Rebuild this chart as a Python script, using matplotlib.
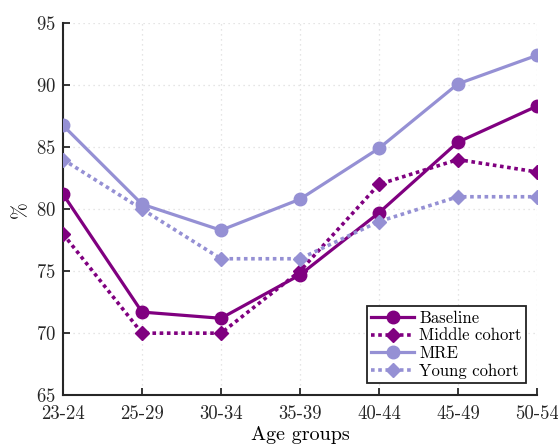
import matplotlib
matplotlib.use("Agg")
import matplotlib.pyplot as plt

plt.rcParams['font.family'] = ['cmr10', 'DejaVu Serif']
plt.rcParams['axes.formatter.use_mathtext'] = True
plt.rcParams['mathtext.fontset'] = 'cm'

categories = ["23-24", "25-29", "30-34", "35-39", "40-44", "45-49", "50-54"]
baseline = [81.2, 71.7, 71.2, 74.7, 79.7, 85.4, 88.3]
middle_cohort = [78, 70, 70, 75, 82, 84, 83]
mre = [86.75, 80.4, 78.3, 80.8, 84.9, 90.1, 92.4]
young_cohort = [84, 80, 76, 76, 79, 81, 81]
yticks = [65, 70, 75, 80, 85, 90, 95]

dark = '#800080'
light = '#9590d4'

fig = plt.figure(figsize=(5.58, 4.45), dpi=100)
ax = fig.add_axes([0.113, 0.112, 0.849, 0.836])
x = list(range(len(categories)))

ax.plot(x, baseline, color=dark, lw=2.3, marker='o', ms=9, label='Baseline', zorder=3)
ax.plot(x, middle_cohort, color=dark, lw=2.6, ls=(0, (1, 1)), marker='D', ms=7.5, label='Middle cohort', zorder=3)
ax.plot(x, mre, color=light, lw=2.3, marker='o', ms=9, label='MRE', zorder=3)
ax.plot(x, young_cohort, color=light, lw=2.6, ls=(0, (1, 1)), marker='D', ms=7.5, label='Young cohort', zorder=3)

ax.set_xlim(0, len(categories) - 1)
ax.set_ylim(65, 95)
ax.set_xticks(x)
ax.set_xticklabels(categories)
ax.set_yticks(yticks)
ax.tick_params(direction='in', length=5, width=1.3, labelsize=13.5, colors='#262626')
ax.tick_params(axis='x', pad=7)
ax.tick_params(axis='y', pad=5)
for s in ['top', 'right']:
    ax.spines[s].set_visible(False)
for s in ['left', 'bottom']:
    ax.spines[s].set_linewidth(1.5)
    ax.spines[s].set_color('#262626')
ax.grid(True, ls=(0, (1, 3)), color='#dddddd', lw=0.9)
ax.set_axisbelow(True)
ax.set_xlabel('Age groups', fontsize=14.5, labelpad=2)
ax.set_ylabel('%', fontsize=14.5, labelpad=4)

leg = ax.legend(loc='lower right', bbox_to_anchor=(0.977, 0.032), borderaxespad=0, fontsize=12,
                handlelength=2.6, handletextpad=0.3, borderpad=0.25, labelspacing=0.15, fancybox=False,
                edgecolor='#222222', framealpha=1)
leg.get_frame().set_linewidth(1.3)

fig.savefig('out.png', dpi=100)
